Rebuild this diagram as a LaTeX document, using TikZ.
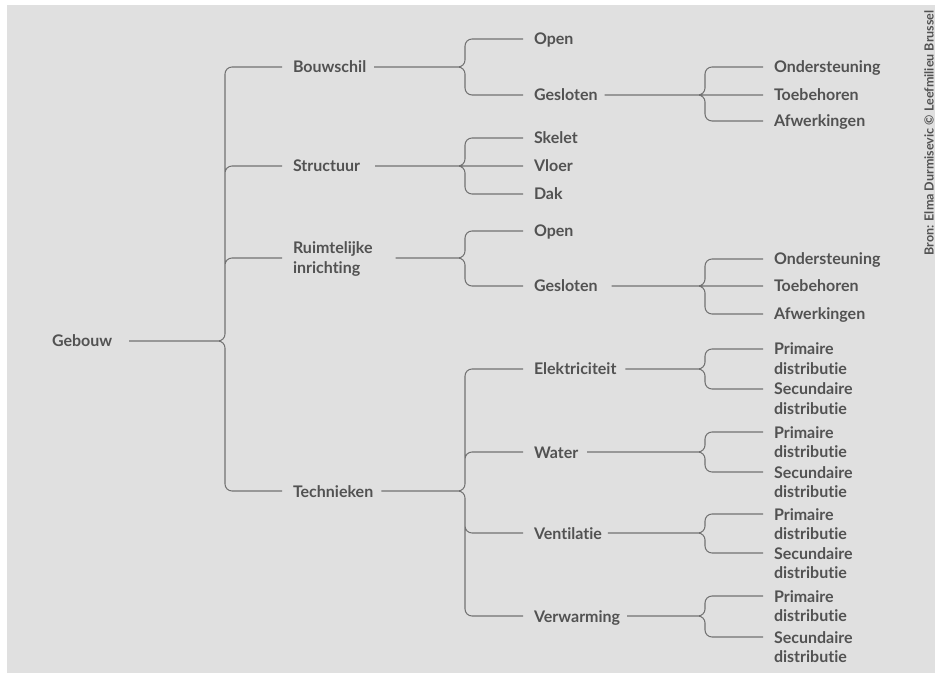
\documentclass[tikz,border=0pt]{standalone}
\usepackage{fontspec}
\setmainfont{Lato}[Ligatures=NoCommon]
\usetikzlibrary{calc}

\definecolor{bg}{HTML}{E0E0E0}
\definecolor{ink}{HTML}{525252}
\definecolor{wire}{HTML}{727272}

% two-line label, first line on the connector
\newcommand\two[2]{\begin{tabular}[t]{@{}l@{}}#1\\#2\end{tabular}}

% Path pieces for one brace; #1 is the connector offset from the node's baseline (px).
% \stemp{off}{parent}{gap}{brace point}: from the parent's text to its brace point
% \up / \down / \level{off}{brace point}{child}: branch to a child above / below / level
\newcommand\stemp[4]{%
  ($(#2.base east)+(#3,#1)$) -- (#4)}
\newcommand\up[3]{%
  let \p1=(#2), \p2=($(#3.base west)+(-11,#1)$) in
    (\p1) .. controls (\x1+2.9pt,\y1) and (\x1+5.25pt,\y1+2.35pt) .. (\x1+5.25pt,\y1+5.25pt)
    -- (\x1+5.25pt,\y2-5.25pt)
    .. controls (\x1+5.25pt,\y2-2.35pt) and (\x1+7.6pt,\y2) .. (\x1+10.5pt,\y2)
    -- (\p2)}
\newcommand\down[3]{%
  let \p1=(#2), \p2=($(#3.base west)+(-11,#1)$) in
    (\p1) .. controls (\x1+2.9pt,\y1) and (\x1+5.25pt,\y1-2.35pt) .. (\x1+5.25pt,\y1-5.25pt)
    -- (\x1+5.25pt,\y2+5.25pt)
    .. controls (\x1+5.25pt,\y2+2.35pt) and (\x1+7.6pt,\y2) .. (\x1+10.5pt,\y2)
    -- (\p2)}
\newcommand\level[3]{%
  (#2) -- ($(#3.base west)+(-11,#1)$)}

\begin{document}
\begin{tikzpicture}[x=0.75pt,y=-0.75pt,
  lbl/.style={anchor=base west, inner sep=0pt, outer sep=0pt, text=ink,
    font=\fontsize{12}{14.4}\selectfont\bfseries},
  link/.style={draw=wire, line width=0.8pt}]

\useasboundingbox (0,0) rectangle (935,673);
\fill[white] (0,0) rectangle (935,673);
\fill[bg] (7,5) rectangle (935,673);

% root
\node[lbl] (gebouw) at (52,347) {Gebouw};

% first level
\node[lbl] (bouwschil) at (293,73) {Bouwschil};
\node[lbl] (structuur) at (293,172) {Structuur};
\node[lbl] (ruimte) at (293,254) {\two{Ruimtelijke}{inrichting}};
\node[lbl] (technieken) at (293,497) {Technieken};

% second level
\node[lbl] (open1) at (534,45) {Open};
\node[lbl] (gesloten1) at (534,101) {Gesloten};
\node[lbl] (skelet) at (534,144) {Skelet};
\node[lbl] (vloer) at (534,172) {Vloer};
\node[lbl] (dak) at (534,200) {Dak};
\node[lbl] (open2) at (534,237) {Open};
\node[lbl] (gesloten2) at (534,292) {Gesloten};
\node[lbl] (elek) at (534,375) {Elektriciteit};
\node[lbl] (water) at (534,458) {Water};
\node[lbl] (vent) at (534,539) {Ventilatie};
\node[lbl] (verw) at (534,622) {Verwarming};

% third level
\node[lbl] (ond1) at (774,73) {Ondersteuning};
\node[lbl] (toe1) at (774,101) {Toebehoren};
\node[lbl] (afw1) at (774,127) {Afwerkingen};
\node[lbl] (ond2) at (774,265) {Ondersteuning};
\node[lbl] (toe2) at (774,292) {Toebehoren};
\node[lbl] (afw2) at (774,320) {Afwerkingen};
\node[lbl] (prim-e) at (774,355) {\two{Primaire}{distributie}};
\node[lbl] (sec-e) at (774,395) {\two{Secundaire}{distributie}};
\node[lbl] (prim-w) at (774,438) {\two{Primaire}{distributie}};
\node[lbl] (sec-w) at (774,478) {\two{Secundaire}{distributie}};
\node[lbl] (prim-v) at (774,520) {\two{Primaire}{distributie}};
\node[lbl] (sec-v) at (774,559) {\two{Secundaire}{distributie}};
\node[lbl] (prim-h) at (774,602) {\two{Primaire}{distributie}};
\node[lbl] (sec-h) at (774,643) {\two{Secundaire}{distributie}};

% brace points
\coordinate (c-geb) at (218,341);
\coordinate (c-bou) at (458,67);
\coordinate (c-str) at (458,166);
\coordinate (c-rui) at (458,258);
\coordinate (c-tec) at (458,491);
\coordinate (c-ges1) at (698,95);
\coordinate (c-ges2) at (698,286);
\coordinate (c-ele) at (698,369);
\coordinate (c-wat) at (698,452);
\coordinate (c-ven) at (698,533);
\coordinate (c-ver) at (698,616);

% one path per brace: stem plus branches
\draw[link] \stemp{-6}{gebouw}{17}{c-geb}
  \up{-6}{c-geb}{bouwschil} \up{-6}{c-geb}{structuur} \up{4}{c-geb}{ruimte}
  \down{-6}{c-geb}{technieken};

\draw[link] \stemp{-6}{bouwschil}{8}{c-bou}
  \up{-6}{c-bou}{open1} \down{-6}{c-bou}{gesloten1};
\draw[link] \stemp{-6}{structuur}{15}{c-str}
  \up{-6}{c-str}{skelet} \level{-6}{c-str}{vloer} \down{-6}{c-str}{dak};
\draw[link] \stemp{4}{ruimte}{23}{c-rui}
  \up{-6}{c-rui}{open2} \down{-6}{c-rui}{gesloten2};
\draw[link] \stemp{-6}{technieken}{8}{c-tec}
  \up{-6}{c-tec}{elek} \up{-6}{c-tec}{water} \down{-6}{c-tec}{vent} \down{-6}{c-tec}{verw};

\draw[link] \stemp{-6}{gesloten1}{7}{c-ges1}
  \up{-6}{c-ges1}{ond1} \level{-6}{c-ges1}{toe1} \down{-6}{c-ges1}{afw1};
\draw[link] \stemp{-6}{gesloten2}{14}{c-ges2}
  \up{-6}{c-ges2}{ond2} \level{-6}{c-ges2}{toe2} \down{-6}{c-ges2}{afw2};
\draw[link] \stemp{-6}{elek}{9}{c-ele} \up{-6}{c-ele}{prim-e} \down{-6}{c-ele}{sec-e};
\draw[link] \stemp{-6}{water}{9}{c-wat} \up{-6}{c-wat}{prim-w} \down{-6}{c-wat}{sec-w};
\draw[link] \stemp{-6}{vent}{6}{c-ven} \up{-6}{c-ven}{prim-v} \down{-6}{c-ven}{sec-v};
\draw[link] \stemp{-6}{verw}{7}{c-ver} \up{-6}{c-ver}{prim-h} \down{-6}{c-ver}{sec-h};

% credit line
\node[rotate=90, inner sep=0pt, text=ink, font=\fontsize{9.4}{10}\selectfont\bfseries]
  (credit) at (929,133) {Bron: Elma Durmisevic © Leefmilieu Brussel};
\end{tikzpicture}
\end{document}
